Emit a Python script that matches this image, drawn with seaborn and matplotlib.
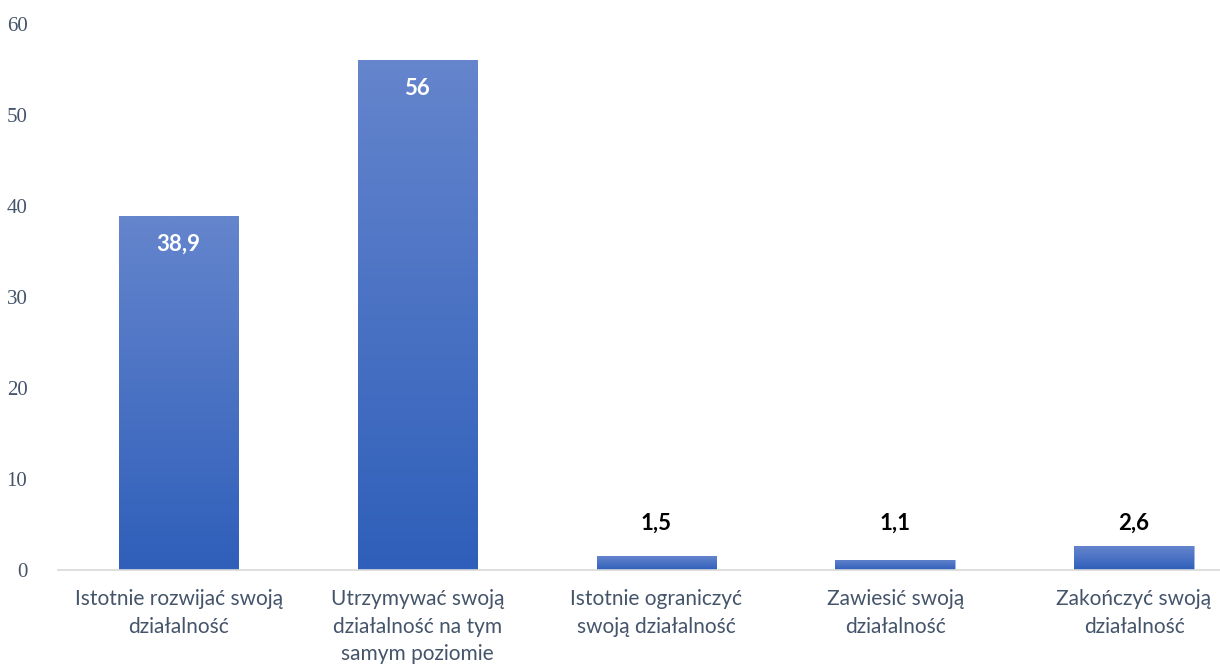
import numpy as np
import pandas as pd
import matplotlib
matplotlib.use("Agg")
import matplotlib.pyplot as plt
from matplotlib.colors import LinearSegmentedColormap
import seaborn as sns

categories = [
    "Istotnie rozwijać swoją\ndziałalność",
    "Utrzymywać swoją\ndziałalność na tym\nsamym poziomie",
    "Istotnie ograniczyć\nswoją działalność",
    "Zawiesić swoją\ndziałalność",
    "Zakończyć swoją\ndziałalność",
]
values = [38.9, 56.0, 1.5, 1.1, 2.6]
value_labels = ["38,9", "56", "1,5", "1,1", "2,6"]
y_ticks = [0, 10, 20, 30, 40, 50, 60]

sns.set_theme(style="white")
plt.rcParams["font.family"] = ["Lato", "DejaVu Sans"]

df = pd.DataFrame({"kategoria": categories, "wartosc": values})

fig = plt.figure(figsize=(12.2, 6.69), dpi=100)
ax = fig.add_axes([0.0475, 0.148, 0.9525, 0.816])

sns.barplot(data=df, x="kategoria", y="wartosc", width=0.5,
            color="#4472c4", ax=ax, saturation=1)

# vertical gradient fill for each bar, lighter at the top
grad_cmap = LinearSegmentedColormap.from_list("bar_grad", ["#2f5fba", "#6585cd"])
grad = np.linspace(0, 1, 256).reshape(-1, 1)
for patch in ax.patches:
    x0, y0 = patch.get_x(), patch.get_y()
    w, h = patch.get_width(), patch.get_height()
    im = ax.imshow(grad, cmap=grad_cmap, aspect="auto", origin="lower",
                   extent=[x0, x0 + w, y0, y0 + h], zorder=patch.get_zorder())
    im.set_clip_path(patch)
    patch.set_facecolor("none")
    patch.set_edgecolor("#8fa8dc")
    patch.set_linewidth(0.6)

ax.set_xlim(-0.505, 4.36)
ax.set_ylim(0, 60)
ax.set_yticks(y_ticks)
ax.set_yticklabels([str(t) for t in y_ticks], family=["Liberation Serif"],
                   fontsize=15, color="#44546a")
ax.tick_params(axis="y", length=0, pad=22)
ax.tick_params(axis="x", length=0, pad=14, labelsize=15, labelcolor="#44546a")
for lbl in ax.get_xticklabels():
    lbl.set_linespacing(1.45)
ax.set_xlabel("")
ax.set_ylabel("")

for side in ["top", "right", "left"]:
    ax.spines[side].set_visible(False)
ax.spines["bottom"].set_color("#d9d9d9")
ax.spines["bottom"].set_linewidth(1.2)

# value labels: inside the tall bars, above the short ones
for i, (v, lab) in enumerate(zip(values, value_labels)):
    if v > 10:
        ax.text(i, v - 3.1, lab, ha="center", va="center", fontsize=16,
                fontweight="bold", color="white")
    else:
        ax.text(i, 5.15, lab, ha="center", va="center", fontsize=16,
                fontweight="bold", color="black")

fig.savefig("out.png", dpi=100, facecolor="white")
